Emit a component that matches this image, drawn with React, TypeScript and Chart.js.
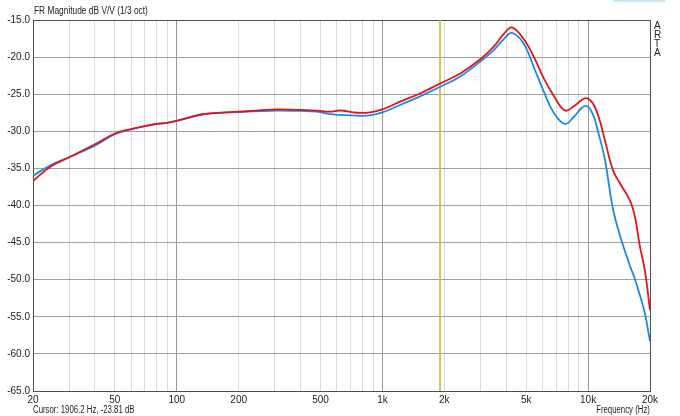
import React, { useEffect, useRef } from "react";
import { Chart, registerables } from "chart.js";

Chart.register(...registerables);

const FREQS = [20, 24.2, 30, 40, 50, 60, 70, 80, 90, 100, 116, 134, 200, 306, 400, 480, 556, 623, 750, 870, 1000, 1218, 1524, 1910, 2390, 2990, 3478, 3912, 4260, 4840, 5436, 6100, 6840, 7720, 8560, 9620, 10400, 11240, 12070, 13200, 14280, 15970, 16890, 17860, 18880, 20000];
const RED_DB = [-36.7, -34.8, -33.5, -31.75, -30.3, -29.7, -29.3, -29.0, -28.85, -28.6, -28.1, -27.7, -27.36, -27.05, -27.13, -27.2, -27.35, -27.2, -27.5, -27.45, -27.05, -26.0, -24.9, -23.55, -22.2, -20.3, -18.6, -16.8, -16.0, -17.5, -19.9, -22.9, -25.3, -27.2, -26.6, -25.55, -26.0, -28.0, -31.2, -35.2, -37.0, -39.3, -41.5, -45.5, -48.7, -54.1];
const BLUE_DB = [-36.0, -34.6, -33.5, -31.95, -30.4, -29.75, -29.3, -29.0, -28.85, -28.6, -28.15, -27.7, -27.4, -27.2, -27.26, -27.35, -27.7, -27.8, -27.9, -27.85, -27.45, -26.45, -25.3, -24.0, -22.6, -20.6, -19.05, -17.5, -16.75, -18.1, -21.3, -24.7, -27.6, -29.0, -28.0, -26.6, -27.35, -30.3, -33.8, -40.4, -44.0, -48.1, -49.9, -52.1, -54.5, -58.3];

const X_TICK_VALUES = [20, 50, 100, 200, 500, 1000, 2000, 5000, 10000, 20000];
const X_TICK_LABELS = ["20", "50", "100", "200", "500", "1k", "2k", "5k", "10k", "20k"];
const DECADES = [10, 100, 1000, 10000];
const MULTIPLES = [1, 2, 3, 4, 5, 6, 7, 8, 9];
const X_MIN = 20;
const X_MAX = 20000;
const Y_MIN = -65;
const Y_MAX = -15;
const Y_STEP = 5;

const CURSOR_FREQ = 1906.2;
const CURSOR_DB = -23.81;

const TITLE = "FR Magnitude dB V/V (1/3 oct)";
const X_TITLE = "Frequency (Hz)";
const BRAND = ["A", "R", "T", "A"];

const FONT_FAMILY = "'Liberation Sans', Arial, sans-serif";

export default function App() {
  const ref = useRef<HTMLCanvasElement | null>(null);

  useEffect(() => {
    document.body.style.margin = "0";
    const canvas = ref.current;
    if (!canvas) return;

    const gridFreqs: number[] = [];
    DECADES.forEach((d) => MULTIPLES.forEach((m) => {
      const v = d * m;
      if (v >= X_MIN && v <= X_MAX) gridFreqs.push(v);
    }));

    const chart = new Chart(canvas, {
      type: "line",
      data: {
        datasets: [
          {
            label: "Red",
            data: FREQS.map((f, i) => ({ x: f, y: RED_DB[i] })),
            borderColor: "#e3141b",
            borderWidth: 1.8,
            pointRadius: 0,
            tension: 0.4,
            fill: false,
          },
          {
            label: "Blue",
            data: FREQS.map((f, i) => ({ x: f, y: BLUE_DB[i] })),
            borderColor: "#1c8ae4",
            borderWidth: 1.8,
            pointRadius: 0,
            tension: 0.4,
            fill: false,
          },
          {
            label: "Cursor",
            data: [{ x: CURSOR_FREQ, y: Y_MAX }, { x: CURSOR_FREQ, y: Y_MIN }],
            borderColor: "#c4c43a",
            borderWidth: 1,
            pointRadius: 0,
            fill: false,
          },
        ],
      },
      options: {
        responsive: false,
        animation: false,
        devicePixelRatio: 1,
        layout: { padding: { top: 20, right: 30, bottom: 0, left: 0 } },
        plugins: {
          legend: { display: false },
          tooltip: { enabled: false },
          title: { display: false },
        },
        scales: {
          x: {
            type: "logarithmic",
            min: X_MIN,
            max: X_MAX,
            afterBuildTicks: (scale: any) => {
              scale.ticks = gridFreqs.map((v) => ({ value: v }));
            },
            afterFit: (scale: any) => {
              scale.height = 25;
            },
            ticks: {
              autoSkip: false,
              maxRotation: 0,
              padding: 3,
              color: "#222",
              font: { family: FONT_FAMILY, size: 10 },
              callback: (value: any) => {
                const idx = X_TICK_VALUES.indexOf(Number(value));
                return idx >= 0 ? X_TICK_LABELS[idx] : "";
              },
            },
            grid: {
              drawTicks: false,
              lineWidth: 1,
              color: (ctx: any) => {
                const v = ctx.tick ? ctx.tick.value : 0;
                if (v === X_MIN || v === X_MAX) return "#505050";
                if (DECADES.indexOf(v) >= 0) return "#9a9a9a";
                return "#dadada";
              },
            },
            border: { color: "#505050", width: 1 },
          },
          y: {
            type: "linear",
            min: Y_MIN,
            max: Y_MAX,
            afterFit: (scale: any) => {
              scale.width = 33;
            },
            ticks: {
              stepSize: Y_STEP,
              padding: 3,
              color: "#222",
              font: { family: FONT_FAMILY, size: 10 },
              callback: (value: any) => Number(value).toFixed(1),
            },
            grid: {
              drawTicks: false,
              lineWidth: 1,
              color: (ctx: any) => {
                const v = ctx.tick ? ctx.tick.value : 0;
                if (v === Y_MAX) return "#505050";
                return "#a0a0a0";
              },
            },
            border: { color: "#505050", width: 1 },
          },
        },
      },
    });

    return () => chart.destroy();
  }, []);

  const textStyle: React.CSSProperties = {
    position: "absolute",
    fontFamily: FONT_FAMILY,
    fontSize: 10,
    color: "#222",
    whiteSpace: "nowrap",
    lineHeight: "12px",
  };

  return (
    <div style={{ position: "fixed", left: 0, top: 0, width: 680, height: 416, background: "#fff" }}>
      <canvas ref={ref} width={680} height={416} style={{ display: "block", width: 680, height: 416 }} />
      <div style={{ ...textStyle, left: 34, top: 4, fontSize: 11, transform: "scaleX(0.76)", transformOrigin: "left center" }}>{TITLE}</div>
      <div style={{ ...textStyle, left: 33, top: 404, transform: "scaleX(0.78)", transformOrigin: "left center" }}>
        {`Cursor: ${CURSOR_FREQ.toFixed(1)} Hz, ${CURSOR_DB.toFixed(2)} dB`}
      </div>
      <div style={{ ...textStyle, right: 30, top: 404, transform: "scaleX(0.78)", transformOrigin: "right center" }}>{X_TITLE}</div>
      <div style={{ position: "absolute", left: 613, top: 0, width: 52, height: 2, background: "#cfe8f6" }} />
      {BRAND.map((ch, i) => (
        <div key={i} style={{ ...textStyle, left: 654, top: 21 + i * 9, lineHeight: "10px" }}>{ch}</div>
      ))}
    </div>
  );
}
